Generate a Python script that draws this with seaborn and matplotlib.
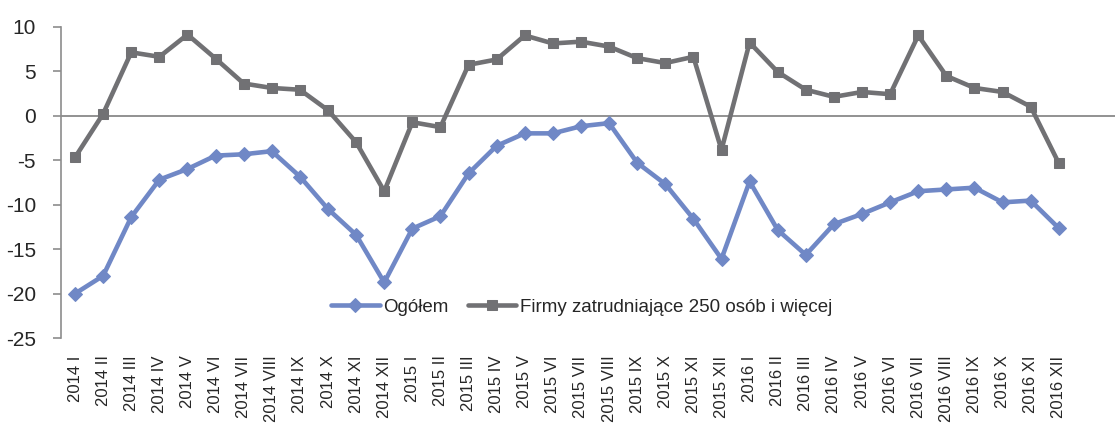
import matplotlib
matplotlib.use('Agg')
import matplotlib.pyplot as plt
import numpy as np
import pandas as pd
import seaborn as sns

# months 2014 I - 2016 XII
roman = ['I', 'II', 'III', 'IV', 'V', 'VI', 'VII', 'VIII', 'IX', 'X', 'XI', 'XII']
years = ['2014', '2015', '2016']
labels = [f'{y} {m}' for y in years for m in roman]

ogolem = [-20.0, -18.0, -11.4, -7.2, -6.0, -4.5, -4.35, -4.0, -6.85, -10.5, -13.4, -18.75,
          -12.7, -11.3, -6.5, -3.4, -2.0, -2.0, -1.2, -0.85, -5.3, -7.7, -11.6, -16.1,
          -7.4, -12.85, -15.65, -12.2, -11.05, -9.75, -8.5, -8.3, -8.1, -9.75, -9.55, -12.65]

firmy = [-4.7, 0.2, 7.1, 6.6, 9.1, 6.4, 3.6, 3.1, 2.9, 0.6, -3.0, -8.5,
         -0.75, -1.3, 5.7, 6.3, 9.0, 8.1, 8.3, 7.75, 6.45, 5.9, 6.6, -3.85,
         8.2, 4.9, 2.9, 2.1, 2.65, 2.4, 9.0, 4.45, 3.1, 2.65, 1.0, -5.35]

name1 = 'Ogółem'
name2 = 'Firmy zatrudniające 250 osób i więcej'

df = pd.DataFrame({'pos': np.arange(len(labels)), name1: ogolem, name2: firmy})

sns.set_style('white')
plt.rcParams['font.family'] = ['Liberation Sans', 'DejaVu Sans']
plt.rcParams['axes.unicode_minus'] = False

blue = '#7088c6'
gray = '#717174'

fig = plt.figure(figsize=(11.15, 4.28), dpi=100)
ax = fig.add_axes([0.0547, 0.21, 0.9453, 0.728])

sns.lineplot(data=df, x='pos', y=name1, ax=ax, color=blue, lw=3.3, marker='D',
             markersize=7, markeredgecolor=blue, label=name1)
sns.lineplot(data=df, x='pos', y=name2, ax=ax, color=gray, lw=3.3, marker='s',
             markersize=6.5, markeredgecolor=gray, label=name2)

ax.axhline(0, color='#7f7f7f', lw=1.2, zorder=0)
ax.set_xlim(-0.5, 37.0)
ax.set_ylim(-25, 10)
ax.set_yticks(range(-25, 11, 5))
ax.set_xticks(df['pos'])
ax.set_xticklabels(labels, rotation=90, va='top', ha='center')
ax.set_xlabel('')
ax.set_ylabel('')

for s in ['top', 'right', 'bottom']:
    ax.spines[s].set_visible(False)
ax.spines['left'].set_color('#8c8c8c')
ax.spines['left'].set_linewidth(1.2)
ax.tick_params(axis='y', which='both', left=True, length=6, width=1.2, color='#8c8c8c',
               labelsize=15, pad=12)
ax.tick_params(axis='x', bottom=False, labelsize=12, pad=9)

ax.legend(loc='center', bbox_to_anchor=(0.494, 0.1), ncol=2, frameon=False,
          fontsize=13.5, handlelength=2.6, columnspacing=1.0, handletextpad=0.2)

fig.savefig('out.png', dpi=100)
